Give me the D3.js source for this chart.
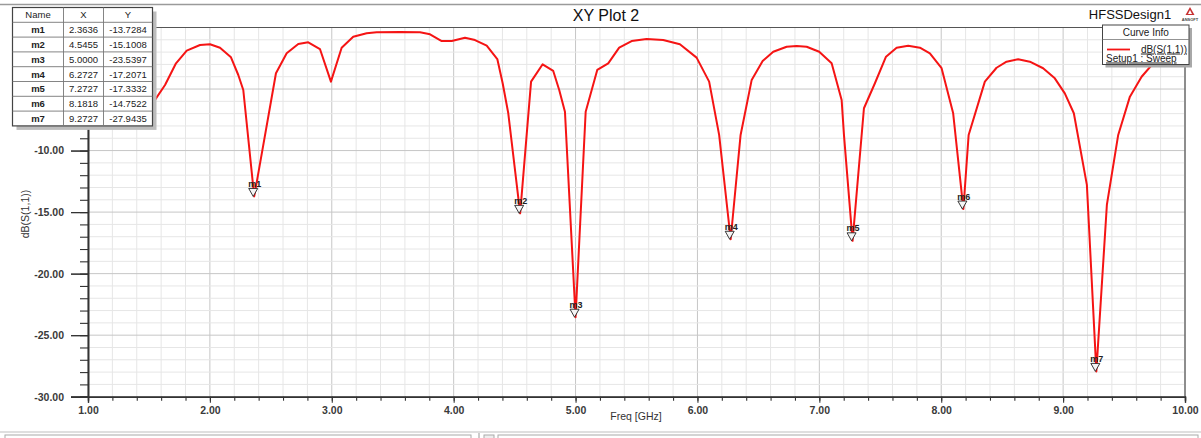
<!DOCTYPE html>
<html>
<head>
<meta charset="utf-8">
<script src="https://cdn.jsdelivr.net/npm/d3@7"></script>
<style>
  html, body { margin: 0; padding: 0; background: #fff; }
  svg { display: block; font-family: Arial, "Liberation Sans", sans-serif; }
</style>
</head>
<body>
<svg id="chart" width="1201" height="438"></svg>
<script>
// ---- Data ----
const freqGHz = [1.000, 1.180, 1.361, 1.455, 1.536, 1.632, 1.722, 1.810, 1.919, 2.001,
  2.083, 2.173, 2.233, 2.274, 2.3636, 2.542, 2.630, 2.725, 2.807, 2.903,
  2.993, 3.081, 3.176, 3.286, 3.368, 3.559, 3.724, 3.806, 3.902, 3.984,
  4.093, 4.175, 4.271, 4.358, 4.402, 4.448, 4.5455, 4.635, 4.730, 4.817,
  4.866, 4.913, 5.000, 5.083, 5.178, 5.268, 5.358, 5.460, 5.583, 5.719,
  5.856, 5.993, 6.096, 6.178, 6.2727, 6.354, 6.445, 6.535, 6.622, 6.732,
  6.814, 6.896, 6.999, 7.101, 7.183, 7.202, 7.2727, 7.366, 7.456, 7.547,
  7.634, 7.729, 7.825, 7.907, 8.003, 8.098, 8.1818, 8.225, 8.358, 8.454,
  8.536, 8.631, 8.727, 8.836, 8.932, 9.014, 9.088, 9.195, 9.2727, 9.359,
  9.452, 9.548, 9.644, 9.739, 9.835, 9.926, 10.000];
const s11dB = [-7.27, -6.95, -6.54, -6.30, -6.08, -4.67, -2.91, -1.88, -1.42, -1.36,
  -1.64, -2.42, -3.86, -5.08, -13.7284, -3.72, -2.10, -1.34, -1.20, -1.75,
  -4.40, -1.64, -0.75, -0.47, -0.39, -0.37, -0.39, -0.55, -1.10, -1.10,
  -0.83, -1.02, -1.48, -2.56, -4.53, -6.97, -15.1008, -4.40, -2.99, -3.53,
  -5.08, -6.84, -23.5397, -6.84, -3.45, -2.91, -1.64, -1.10, -0.93, -1.02,
  -1.36, -2.45, -4.40, -8.73, -17.2071, -8.73, -4.26, -2.72, -1.97, -1.56,
  -1.50, -1.56, -1.97, -2.91, -5.89, -8.73, -17.3332, -6.56, -4.53, -2.37,
  -1.64, -1.48, -1.64, -2.10, -3.31, -6.97, -14.7522, -8.73, -4.40, -3.27,
  -2.78, -2.58, -2.78, -3.31, -4.13, -5.35, -6.97, -12.79, -27.9435, -14.42,
  -8.73, -5.62, -4.00, -2.91, -2.15, -1.50, -0.85];

const markerNames = ["m1", "m2", "m3", "m4", "m5", "m6", "m7"];
const markerX = [2.3636, 4.5455, 5.0000, 6.2727, 7.2727, 8.1818, 9.2727];
const markerY = [-13.7284, -15.1008, -23.5397, -17.2071, -17.3332, -14.7522, -27.9435];

const xTicks = [1, 2, 3, 4, 5, 6, 7, 8, 9, 10];
// labelled y ticks visible in the reference (-5 and 0 sit behind the marker table)
const yTickLabels = [-30, -25, -20, -15, -10];
const yMajorTicks = [-30, -25, -20, -15, -10, -5, 0];

const titleText = "XY Plot 2";
const designText = "HFSSDesign1";
const xLabel = "Freq [GHz]";
const yLabel = "dB(S(1,1))";
const legendTitle = "Curve Info";
const legendTrace = "dB(S(1,1))";
const legendSetup = "Setup1 : Sweep";

// ---- Layout ----
const svg = d3.select("#chart");
const L = 88, R = 1185, T = 27.5, B = 396.7;
const x = d3.scaleLinear().domain([1, 10]).range([L, R]);
const y = d3.scaleLinear().domain([-30, 0]).range([B, T]);

svg.append("rect").attr("width", 1201).attr("height", 438).attr("fill", "#fff");

// window top border
svg.append("line").attr("x1", 0).attr("x2", 1201).attr("y1", 4.5).attr("y2", 4.5)
  .attr("stroke", "#9a9a9a").attr("stroke-width", 1.5);

// ---- Grid ----
const grid = svg.append("g");
d3.range(0, 46).map(i => 1 + i * 0.2).forEach(v => {
  const major = Math.abs(v - Math.round(v)) < 1e-6;
  grid.append("line")
    .attr("x1", x(v)).attr("x2", x(v)).attr("y1", T).attr("y2", B)
    .attr("stroke", major ? "#c6c6c6" : "#e6e6e6").attr("stroke-width", 1);
});
d3.range(-30, 1).forEach(v => {
  const major = v % 5 === 0;
  grid.append("line")
    .attr("x1", L).attr("x2", R).attr("y1", y(v)).attr("y2", y(v))
    .attr("stroke", major ? "#c6c6c6" : "#e6e6e6").attr("stroke-width", 1);
});

// frame top + right
svg.append("line").attr("x1", L).attr("x2", R).attr("y1", T).attr("y2", T)
  .attr("stroke", "#555").attr("stroke-width", 1.2);
svg.append("line").attr("x1", R).attr("x2", R).attr("y1", T).attr("y2", B)
  .attr("stroke", "#555").attr("stroke-width", 1.2);

// ---- Axes ----
const xMinor = d3.range(0, 46).map(i => 1 + i * 0.2);
const xAxisMinor = d3.axisBottom(x).tickValues(xMinor).tickSize(4).tickFormat("");
const xAxis = d3.axisBottom(x).tickValues(xTicks).tickSize(6).tickPadding(4)
  .tickFormat(d => d.toFixed(2));
const gxm = svg.append("g").attr("transform", `translate(0,${B})`).call(xAxisMinor);
const gx = svg.append("g").attr("transform", `translate(0,${B})`).call(xAxis);
const yMinor = d3.range(-30, 1);
const yAxisMinor = d3.axisLeft(y).tickValues(yMinor).tickSize(8).tickFormat("");
const yAxisMajor = d3.axisLeft(y).tickValues(yMajorTicks).tickSize(17).tickFormat("");
const yAxis = d3.axisLeft(y).tickValues(yTickLabels).tickSize(17).tickPadding(7)
  .tickFormat(d => d.toFixed(2));
const gym = svg.append("g").attr("transform", `translate(${L},0)`).call(yAxisMinor);
const gyM = svg.append("g").attr("transform", `translate(${L},0)`).call(yAxisMajor);
const gy = svg.append("g").attr("transform", `translate(${L},0)`).call(yAxis);
[gx, gxm, gy, gym, gyM].forEach(g => {
  g.select(".domain").attr("stroke", "#333").attr("stroke-width", 1.4);
  g.selectAll(".tick line").attr("stroke", "#333").attr("stroke-width", 1.1);
  g.selectAll("text").attr("font-family", "Arial, 'Liberation Sans', sans-serif")
    .attr("font-size", 10.5).attr("font-weight", "bold").attr("fill", "#3a3a3a");
});

svg.append("text").attr("x", 636).attr("y", 420).attr("text-anchor", "middle")
  .attr("font-size", 10.5).attr("fill", "#333").text(xLabel);
svg.append("text").attr("transform", "translate(29,214) rotate(-90)")
  .attr("text-anchor", "middle").attr("font-size", 10.5).attr("fill", "#333").text(yLabel);

// ---- Curve ----
const pts = freqGHz.map((f, i) => [f, s11dB[i]]);
const line = d3.line().x(d => x(d[0])).y(d => y(d[1]));
svg.append("path").datum(pts).attr("d", line)
  .attr("fill", "none").attr("stroke", "#f51414").attr("stroke-width", 2)
  .attr("stroke-linejoin", "round");

// ---- Markers ----
const mg = svg.append("g");
markerNames.forEach((n, i) => {
  const px = x(markerX[i]), py = y(markerY[i]);
  mg.append("path")
    .attr("d", `M${px - 5.5},${py - 8} L${px + 3.5},${py - 8} L${px - 1},${py} Z`)
    .attr("fill", "#f4f4f4").attr("stroke", "#222").attr("stroke-width", 0.9);
  mg.append("text").attr("x", px + 0.5).attr("y", py - 9.5).attr("text-anchor", "middle")
    .attr("font-size", 9).attr("font-weight", "bold").attr("fill", "#222").text(n);
});

// ---- Marker table ----
const tb = svg.append("g");
const tx0 = 12.5, tx1 = 63.5, tx2 = 103.5, tx3 = 152.5;
const ty0 = 7.5, rowH = 14.8, nRows = markerNames.length + 1;
const tyEnd = ty0 + rowH * nRows;
tb.append("rect").attr("x", tx0 + 4).attr("y", ty0 + 4).attr("width", tx3 - tx0)
  .attr("height", tyEnd - ty0).attr("fill", "#bdbdbd");
tb.append("rect").attr("x", tx0).attr("y", ty0).attr("width", tx3 - tx0)
  .attr("height", tyEnd - ty0).attr("fill", "#fff").attr("stroke", "#444").attr("stroke-width", 1.2);
for (let r = 1; r < nRows; r++) {
  tb.append("line").attr("x1", tx0).attr("x2", tx3).attr("y1", ty0 + r * rowH).attr("y2", ty0 + r * rowH)
    .attr("stroke", "#777").attr("stroke-width", 0.9);
}
[tx1, tx2].forEach(cx => tb.append("line").attr("x1", cx).attr("x2", cx).attr("y1", ty0).attr("y2", tyEnd)
  .attr("stroke", "#777").attr("stroke-width", 0.9));
const colC = [(tx0 + tx1) / 2, (tx1 + tx2) / 2, (tx2 + tx3) / 2];
["Name", "X", "Y"].forEach((h, j) => tb.append("text").attr("x", colC[j]).attr("y", ty0 + rowH / 2 + 3.5)
  .attr("text-anchor", "middle").attr("font-size", 9.5).attr("fill", "#222").text(h));
markerNames.forEach((n, i) => {
  const cy = ty0 + (i + 1) * rowH + rowH / 2 + 3.5;
  tb.append("text").attr("x", colC[0]).attr("y", cy).attr("text-anchor", "middle")
    .attr("font-size", 9.5).attr("font-weight", "bold").attr("fill", "#222").text(n);
  tb.append("text").attr("x", colC[1]).attr("y", cy).attr("text-anchor", "middle")
    .attr("font-size", 9.5).attr("fill", "#222").text(markerX[i].toFixed(4));
  tb.append("text").attr("x", colC[2]).attr("y", cy).attr("text-anchor", "middle")
    .attr("font-size", 9.5).attr("fill", "#222").text(markerY[i].toFixed(4));
});

// ---- Titles ----
svg.append("text").attr("x", 606).attr("y", 20.5).attr("text-anchor", "middle")
  .attr("font-size", 16).attr("fill", "#111").text(titleText);
svg.append("text").attr("x", 1130).attr("y", 19).attr("text-anchor", "middle")
  .attr("font-size", 13).attr("fill", "#111").text(designText);
// small logo
svg.append("path").attr("d", "M1190,7 L1194.5,15 L1185.5,15 Z").attr("fill", "#c83030");
svg.append("path").attr("d", "M1190,10 L1192,14 L1188,14 Z").attr("fill", "#fff");
svg.append("text").attr("x", 1190).attr("y", 20.5).attr("text-anchor", "middle")
  .attr("font-size", 4).attr("font-weight", "bold").attr("fill", "#444").text("ANSOFT");

// ---- Legend ----
const lg = svg.append("g");
const lx0 = 1102.5, lx1 = 1189, ly0 = 25, ly1 = 64.5;
lg.append("rect").attr("x", lx0 + 3).attr("y", ly0 + 3).attr("width", lx1 - lx0).attr("height", ly1 - ly0)
  .attr("fill", "#a8a8a8");
lg.append("rect").attr("x", lx0).attr("y", ly0).attr("width", lx1 - lx0).attr("height", ly1 - ly0)
  .attr("fill", "#fff").attr("stroke", "#444").attr("stroke-width", 1);
lg.append("line").attr("x1", lx0).attr("x2", lx1).attr("y1", 39.5).attr("y2", 39.5)
  .attr("stroke", "#777").attr("stroke-width", 0.8);
lg.append("text").attr("x", (lx0 + lx1) / 2).attr("y", 36).attr("text-anchor", "middle")
  .attr("font-size", 10).attr("fill", "#222").text(legendTitle);
lg.append("line").attr("x1", 1107).attr("x2", 1130).attr("y1", 49.5).attr("y2", 49.5)
  .attr("stroke", "#f51414").attr("stroke-width", 1.8);
lg.append("text").attr("x", 1187).attr("y", 52.5).attr("text-anchor", "end")
  .attr("font-size", 10).attr("fill", "#222").attr("text-decoration", "underline").text(legendTrace);
lg.append("text").attr("x", 1106).attr("y", 61.5).attr("text-anchor", "start")
  .attr("font-size", 10).attr("fill", "#222").attr("text-decoration", "underline").text(legendSetup);

// ---- bottom window chrome ----
svg.append("line").attr("x1", 0).attr("x2", 1201).attr("y1", 432).attr("y2", 432)
  .attr("stroke", "#d4d4d4").attr("stroke-width", 1.5);
svg.append("rect").attr("x", 5).attr("y", 435).attr("width", 466).attr("height", 6)
  .attr("fill", "#fff").attr("stroke", "#aaa");
svg.append("line").attr("x1", 479).attr("x2", 479).attr("y1", 433).attr("y2", 438)
  .attr("stroke", "#999");
svg.append("rect").attr("x", 484).attr("y", 435).attr("width", 10).attr("height", 6)
  .attr("fill", "#eee").attr("stroke", "#aaa");
svg.append("rect").attr("x", 498).attr("y", 435).attr("width", 700).attr("height", 6)
  .attr("fill", "#fff").attr("stroke", "#aaa");
</script>
</body>
</html>
